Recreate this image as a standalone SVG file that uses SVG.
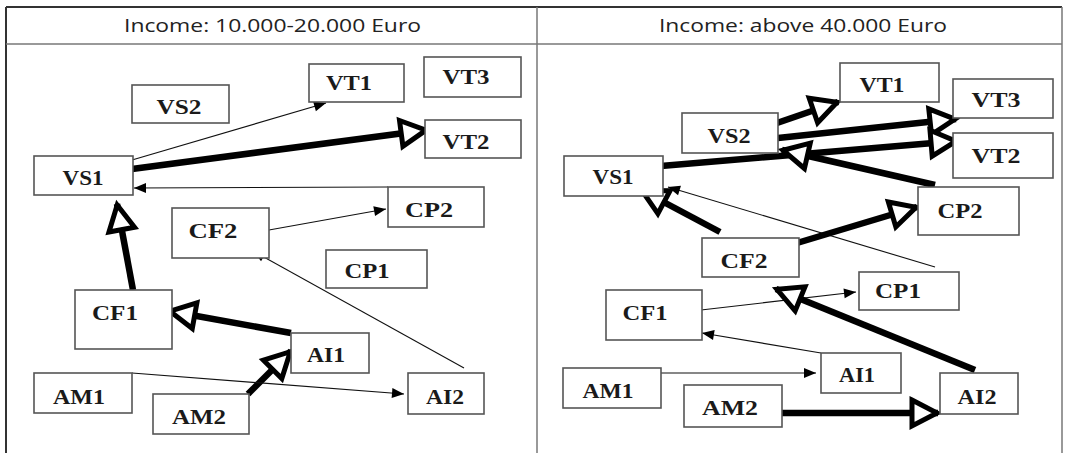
<svg xmlns="http://www.w3.org/2000/svg" width="1067" height="453" viewBox="0 0 1067 453">
<style>
.bg{fill:#ffffff}
.frame{fill:none;stroke:#333;stroke-width:2}
.hline{fill:none;stroke:#777;stroke-width:1.5}
.hdr{font-family:"Open Sans","Liberation Sans",Arial,sans-serif;font-size:19px;fill:#222}
.box{fill:#fff;stroke:#555;stroke-width:1.6}
.lbl{font-family:"Liberation Serif","Times New Roman",serif;font-weight:bold;font-size:20px;fill:#1a1a1a;text-anchor:middle}
.thin{fill:none;stroke:#111;stroke-width:1.1;marker-end:url(#fa)}
.thick{fill:none;stroke:#000;stroke-width:6.5;marker-end:url(#oa)}
</style>
<defs>
<marker id="fa" markerUnits="userSpaceOnUse" viewBox="0 0 12 10" refX="12" refY="5" markerWidth="12" markerHeight="10" orient="auto" overflow="visible">
<path d="M0,0 L12,5 L0,10 z" fill="#000"/>
</marker>
<marker id="oa" markerUnits="userSpaceOnUse" viewBox="0 0 32 30" refX="29" refY="15" markerWidth="32" markerHeight="30" orient="auto" overflow="visible">
<path d="M3,2 L28,15 L3,28 z" fill="#fff" stroke="#000" stroke-width="5" stroke-linejoin="miter"/>
</marker>
</defs>
<rect class="bg" x="0" y="0" width="1067" height="453"/>
<g id="frame">
<line class="frame" x1="6" y1="7" x2="1062" y2="7"/>
<line class="frame" x1="6" y1="7" x2="6" y2="453"/>
<line class="hline" x1="537" y1="7" x2="537" y2="453"/>
<line class="hline" x1="1062" y1="7" x2="1062" y2="453"/>
<line class="hline" x1="6" y1="44" x2="1062" y2="44"/>
<text class="hdr" x="124" y="32" textLength="297" lengthAdjust="spacingAndGlyphs">Income: 10.000-20.000 Euro</text>
<text class="hdr" x="659" y="32" textLength="288" lengthAdjust="spacingAndGlyphs">Income: above 40.000 Euro</text>
</g>
<g id="connectors">
<!-- left panel -->
<line class="thin" x1="132" y1="160" x2="326" y2="103"/>
<line class="thick" x1="132" y1="169" x2="427" y2="130"/>
<line class="thin" x1="388" y1="187" x2="134" y2="188"/>
<line class="thin" x1="269" y1="230" x2="386" y2="209"/>
<line class="thick" x1="133" y1="290" x2="117" y2="204"/>
<line class="thick" x1="291" y1="333" x2="169" y2="311"/>
<line class="thick" x1="248" y1="394" x2="291" y2="351"/>
<line class="thin" x1="132" y1="373" x2="404" y2="394"/>
<line class="thin" x1="464" y1="368" x2="253" y2="251"/>
<!-- right panel -->
<line class="thick" x1="777" y1="123" x2="838" y2="102"/>
<line class="thick" x1="778" y1="138" x2="956" y2="119"/>
<line class="thick" x1="661" y1="166" x2="957" y2="141"/>
<line class="thick" x1="935" y1="185" x2="782" y2="150"/>
<line class="thick" x1="720" y1="232" x2="641" y2="190"/>
<line class="thin" x1="935" y1="267" x2="668" y2="187"/>
<line class="thick" x1="797" y1="243" x2="917" y2="207"/>
<line class="thin" x1="701" y1="310" x2="856" y2="292"/>
<line class="thick" x1="975" y1="370" x2="776" y2="289"/>
<line class="thin" x1="821" y1="353" x2="702" y2="333"/>
<line class="thin" x1="661" y1="373" x2="816" y2="373"/>
<line class="thick" x1="778" y1="413" x2="938" y2="413"/>
</g>
<!-- left panel nodes -->
<g id="L-VS2"><rect class="box" x="132" y="85" width="97" height="38"/><text class="lbl" x="179" y="114" textLength="45" lengthAdjust="spacingAndGlyphs">VS2</text></g>
<g id="L-VT1"><rect class="box" x="309" y="64" width="95" height="38"/><text class="lbl" x="349" y="90" textLength="46" lengthAdjust="spacingAndGlyphs">VT1</text></g>
<g id="L-VT3"><rect class="box" x="424" y="57" width="97" height="40"/><text class="lbl" x="466" y="84" textLength="47" lengthAdjust="spacingAndGlyphs">VT3</text></g>
<g id="L-VT2"><rect class="box" x="425" y="120" width="96" height="38"/><text class="lbl" x="466" y="149" textLength="47" lengthAdjust="spacingAndGlyphs">VT2</text></g>
<g id="L-VS1"><rect class="box" x="34" y="156" width="99" height="39"/><text class="lbl" x="83" y="185" textLength="41" lengthAdjust="spacingAndGlyphs">VS1</text></g>
<g id="L-CP2"><rect class="box" x="388" y="187" width="96" height="40"/><text class="lbl" x="429" y="217" textLength="48" lengthAdjust="spacingAndGlyphs">CP2</text></g>
<g id="L-CF2"><rect class="box" x="172" y="208" width="97" height="50"/><text class="lbl" x="213" y="238" textLength="49" lengthAdjust="spacingAndGlyphs">CF2</text></g>
<g id="L-CP1"><rect class="box" x="326" y="250" width="101" height="38"/><text class="lbl" x="367" y="278" textLength="45" lengthAdjust="spacingAndGlyphs">CP1</text></g>
<g id="L-CF1"><rect class="box" x="75" y="290" width="97" height="59"/><text class="lbl" x="115" y="320" textLength="46" lengthAdjust="spacingAndGlyphs">CF1</text></g>
<g id="L-AI1"><rect class="box" x="291" y="333" width="78" height="40"/><text class="lbl" x="326" y="362" textLength="38" lengthAdjust="spacingAndGlyphs">AI1</text></g>
<g id="L-AM1"><rect class="box" x="34" y="373" width="98" height="40"/><text class="lbl" x="79" y="404" textLength="52" lengthAdjust="spacingAndGlyphs">AM1</text></g>
<g id="L-AM2"><rect class="box" x="153" y="394" width="96" height="40"/><text class="lbl" x="199" y="424" textLength="54" lengthAdjust="spacingAndGlyphs">AM2</text></g>
<g id="L-AI2"><rect class="box" x="408" y="373" width="76" height="41"/><text class="lbl" x="445" y="404" textLength="38" lengthAdjust="spacingAndGlyphs">AI2</text></g>
<!-- right panel nodes -->
<g id="R-VT1"><rect class="box" x="840" y="63" width="99" height="39"/><text class="lbl" x="882" y="92" textLength="45" lengthAdjust="spacingAndGlyphs">VT1</text></g>
<g id="R-VT3"><rect class="box" x="953" y="79" width="100" height="39"/><text class="lbl" x="996" y="107" textLength="49" lengthAdjust="spacingAndGlyphs">VT3</text></g>
<g id="R-VS2"><rect class="box" x="682" y="113" width="96" height="40"/><text class="lbl" x="729" y="143" textLength="43" lengthAdjust="spacingAndGlyphs">VS2</text></g>
<g id="R-VT2"><rect class="box" x="953" y="133" width="100" height="45"/><text class="lbl" x="996" y="163" textLength="49" lengthAdjust="spacingAndGlyphs">VT2</text></g>
<g id="R-VS1"><rect class="box" x="564" y="156" width="99" height="40"/><text class="lbl" x="613" y="184" textLength="41" lengthAdjust="spacingAndGlyphs">VS1</text></g>
<g id="R-CP2"><rect class="box" x="918" y="187" width="101" height="48"/><text class="lbl" x="960" y="218" textLength="45" lengthAdjust="spacingAndGlyphs">CP2</text></g>
<g id="R-CF2"><rect class="box" x="702" y="238" width="97" height="39"/><text class="lbl" x="744" y="268" textLength="47" lengthAdjust="spacingAndGlyphs">CF2</text></g>
<g id="R-CP1"><rect class="box" x="859" y="272" width="100" height="38"/><text class="lbl" x="898" y="298" textLength="46" lengthAdjust="spacingAndGlyphs">CP1</text></g>
<g id="R-CF1"><rect class="box" x="606" y="290" width="96" height="50"/><text class="lbl" x="645" y="320" textLength="45" lengthAdjust="spacingAndGlyphs">CF1</text></g>
<g id="R-AI1"><rect class="box" x="821" y="353" width="80" height="40"/><text class="lbl" x="857" y="382" textLength="36" lengthAdjust="spacingAndGlyphs">AI1</text></g>
<g id="R-AM1"><rect class="box" x="563" y="368" width="98" height="40"/><text class="lbl" x="608" y="398" textLength="51" lengthAdjust="spacingAndGlyphs">AM1</text></g>
<g id="R-AM2"><rect class="box" x="684" y="385" width="98" height="42"/><text class="lbl" x="730" y="415" textLength="56" lengthAdjust="spacingAndGlyphs">AM2</text></g>
<g id="R-AI2"><rect class="box" x="940" y="373" width="78" height="41"/><text class="lbl" x="977" y="404" textLength="39" lengthAdjust="spacingAndGlyphs">AI2</text></g>
</svg>
